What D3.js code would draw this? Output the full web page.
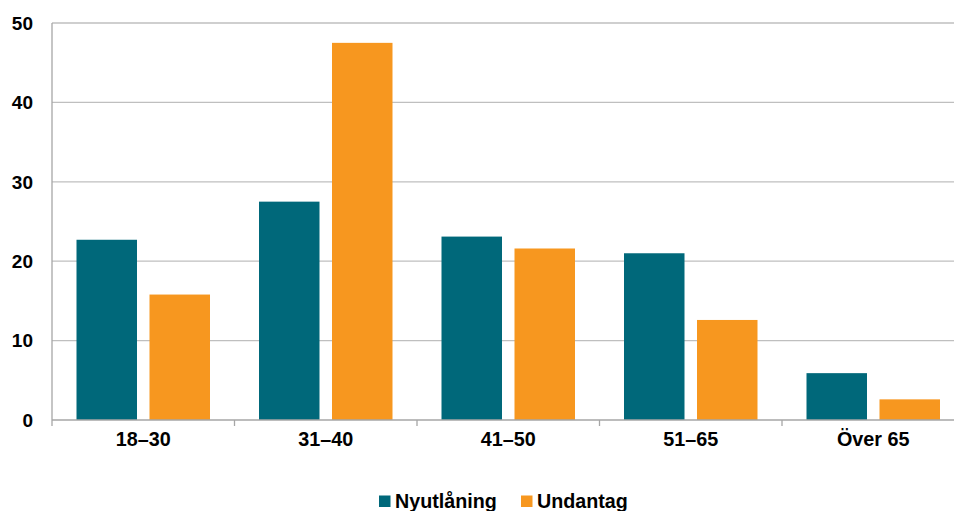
<!DOCTYPE html>
<html>
<head>
<meta charset="utf-8">
<script src="https://cdn.jsdelivr.net/npm/d3@7/dist/d3.min.js"></script>
<style>
  html, body { margin: 0; padding: 0; background: #fff; }
  svg { display: block; font-family: "Liberation Sans", Arial, sans-serif; font-weight: bold; }
</style>
</head>
<body>
<svg id="chart" width="954" height="511"></svg>
<script>
// Age groups and share per series (percent)
const categories = ["18–30", "31–40", "41–50", "51–65", "Över 65"];
const seriesNames = ["Nyutlåning", "Undantag"];
const nyutlaning = [22.7, 27.5, 23.1, 21.0, 5.9];
const undantag = [15.8, 47.5, 21.6, 12.6, 2.6];
const yTicks = [0, 10, 20, 30, 40, 50];
const colors = ["#00687a", "#f7971f"];

const svg = d3.select("#chart");
const plotLeft = 52, plotTop = 23, plotBottom = 420;
const band = 182.5;

const x = d3.scaleBand().domain(categories).range([plotLeft, plotLeft + band * categories.length]).paddingInner(0).paddingOuter(0);
const y = d3.scaleLinear().domain([0, 50]).range([plotBottom, plotTop]);

const rows = categories.map((c, i) => ({ cat: c, values: [nyutlaning[i], undantag[i]] }));

// gridlines
svg.append("g").selectAll("line").data(yTicks.filter(t => t > 0)).join("line")
  .attr("x1", plotLeft).attr("x2", 954)
  .attr("y1", d => y(d)).attr("y2", d => y(d))
  .attr("stroke", "#bfbfbf").attr("stroke-width", 1.3);

// y axis line
svg.append("line").attr("x1", plotLeft).attr("x2", plotLeft).attr("y1", plotTop).attr("y2", plotBottom)
  .attr("stroke", "#a6a6a6").attr("stroke-width", 1.3);

// y labels
svg.append("g").selectAll("text").data(yTicks).join("text")
  .attr("x", 33).attr("y", d => y(d)).attr("dy", "0.36em")
  .attr("text-anchor", "end").attr("font-size", 19).attr("fill", "#000")
  .text(d => d);

// bars
const barW = 60.5, gap = 12.5;
const groups = svg.append("g").selectAll("g").data(rows).join("g")
  .attr("transform", d => `translate(${x(d.cat) + x.bandwidth() / 2},0)`);
groups.selectAll("rect").data(d => d.values).join("rect")
  .attr("x", (d, i) => i === 0 ? -gap / 2 - barW : gap / 2)
  .attr("width", barW)
  .attr("y", d => y(d))
  .attr("height", d => y(0) - y(d))
  .attr("fill", (d, i) => colors[i]);

// x axis line and ticks
svg.append("line").attr("x1", plotLeft).attr("x2", 954).attr("y1", plotBottom).attr("y2", plotBottom)
  .attr("stroke", "#a6a6a6").attr("stroke-width", 1.3);
svg.append("g").selectAll("line").data(d3.range(categories.length + 1)).join("line")
  .attr("x1", i => plotLeft + i * band).attr("x2", i => plotLeft + i * band)
  .attr("y1", plotBottom).attr("y2", plotBottom + 6)
  .attr("stroke", "#a6a6a6").attr("stroke-width", 1.3);

// x labels
svg.append("g").selectAll("text").data(categories).join("text")
  .attr("x", d => x(d) + x.bandwidth() / 2).attr("y", 445.5)
  .attr("text-anchor", "middle").attr("font-size", 19.8).attr("fill", "#000")
  .text(d => d);

// legend
const legendX = [379, 521];
const lg = svg.append("g").selectAll("g").data(seriesNames).join("g")
  .attr("transform", (d, i) => `translate(${legendX[i]},0)`);
lg.append("rect").attr("x", 0).attr("y", 495.5).attr("width", 11.5).attr("height", 11.5)
  .attr("fill", (d, i) => colors[i]);
lg.append("text").attr("x", 16).attr("y", 507.5).attr("font-size", 19.7).attr("fill", "#000")
  .text(d => d);
</script>
</body>
</html>
